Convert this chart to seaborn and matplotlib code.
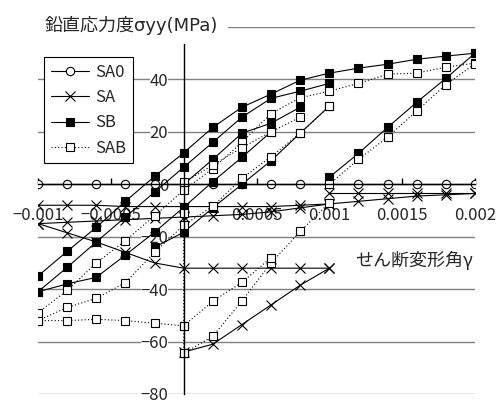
import matplotlib
matplotlib.use("Agg")
import matplotlib.pyplot as plt
import seaborn as sns

# strain points used by every series (shear angle gamma)
gamma = [-0.001, -0.0008, -0.0006, -0.0004, -0.0002, 0, 0.0002, 0.0004,
         0.0006, 0.0008, 0.001, 0.0012, 0.0014, 0.0016, 0.0018, 0.002]

# SA0
sa0_y = [0, 0, 0, 0, 0, 0, 0, 0, 0, 0, 0, 0, 0, 0, 0, 0]

# SA
sa_1 = [-8, -8, -8, -8.5, -8.5, -8.5, -8.5, -8.5, -8.5, -8, -7.5, -6.5, -5.5, -4.5, -4, -3.5]
sa_2 = [-15, -14.5, -14, -13.5, -13, -12.5, -12, -11.5, -10.5, -9, -7.5]
sa_3 = [-15, -18.5, -22, -26, -30, -32, -32, -32, -32, -32, -32]
sa_4 = [-64, -61, -53.5, -46, -38.5, -32]
sa_5 = [-3.5, -3.5, -3.5, -3.5, -3.5, -3.5]

# SB
sb_1 = [-35, -25.6, -16.4, -6.5, 3, 12, 21.7, 29.4, 34.4, 39.7, 42.4, 44.3, 45.8, 47.7, 48.9, 50]
sb_2 = [-41, -31.7, -22, -12.5, -3, 6.5, 16, 25.6, 32.8, 35.5, 38.5]
sb_3 = [-41, -38, -35.5, -27, -18.3, -8.8, 1, 10.3, 20]
sb_4 = [-24, -18.3, -9, 0, 9, 19.5, 29.8]
sb_5 = [0, 9.5, 19.5, 23.3, 29.4]
sb_6 = [2.7, 11.8, 21.7, 31.3, 40.4, 50]

# SAB
sab_1_x = [-0.001, -0.0008, -0.0006, -0.0004, -0.0002, 0, 0]
sab_1 = [-52, -52, -51.5, -52, -53, -54, -64.5]
sab_2 = [-64.5, -58, -44.5, -30, -18, -7]
sab_3_x = [0, 0, 0.0002, 0.0004, 0.0006]
sab_3 = [-11, -54, -44.6, -37.4, -28]
sab_4 = [-49, -40.5, -30, -21.5, -12, -2.3, 6, 16, 27, 33, 35.5, 38.5, 42, 42.4, 44.7, 46.2]
sab_5 = [-52, -47, -43.5, -37.5, -26, -15.6, -8.4, 2.3, 10.5, 19.5, 29.8]
sab_6 = [0, 9.5, 18, 28, 38, 46]
sab_7 = [0.7, 7.3, 14, 20, 25.6]

xticks = [-0.001, -0.0005, 0, 0.0005, 0.001, 0.0015, 0.002]
xtick_labels = ["\u22120.001", "\u22120.0005", "0", "0.0005", "0.001", "0.0015", "0.002"]
yticks = [-80, -60, -40, -20, 0, 20, 40, 60]
ytick_labels = ["\u221280", "\u221260", "\u221240", "\u221220", "0", "20", "40", ""]

sns.set_theme(style="white")
plt.rcParams["font.family"] = ["Noto Sans CJK JP", "DejaVu Sans"]

fig = plt.figure(figsize=(5.01, 4.03), dpi=100)
ax = fig.add_axes([38 / 501, 9 / 403, 437 / 501, 367 / 403])

styles = {
    "SA0": dict(marker="o", markersize=6, markerfacecolor="white", linestyle="-"),
    "SA": dict(marker="x", markersize=7.5, markerfacecolor="black", linestyle="-"),
    "SB": dict(marker="s", markersize=5.5, markerfacecolor="black", linestyle="-"),
    "SAB": dict(marker="s", markersize=5.5, markerfacecolor="white", linestyle=(0, (1, 2))),
}

series = [
    ("SA0", gamma, sa0_y),
    ("SA", gamma, sa_1),
    ("SA", gamma[:11], sa_2),
    ("SA", gamma[:11], sa_3),
    ("SA", gamma[5:11], sa_4),
    ("SA", gamma[10:], sa_5),
    ("SB", gamma, sb_1),
    ("SB", gamma[:11], sb_2),
    ("SB", gamma[:9], sb_3),
    ("SB", gamma[4:11], sb_4),
    ("SB", gamma[5:10], sb_5),
    ("SB", gamma[10:], sb_6),
    ("SAB", sab_1_x, sab_1),
    ("SAB", gamma[5:11], sab_2),
    ("SAB", sab_3_x, sab_3),
    ("SAB", gamma, sab_4),
    ("SAB", gamma[:11], sab_5),
    ("SAB", gamma[10:], sab_6),
    ("SAB", gamma[5:10], sab_7),
]

seen = set()
for name, xs, ys in series:
    lab = name if name not in seen else None
    seen.add(name)
    sns.lineplot(x=xs, y=ys, ax=ax, color="black", linewidth=0.8,
                 markeredgecolor="black", markeredgewidth=0.8,
                 sort=False, estimator=None, label=lab, legend=False,
                 **styles[name])

ax.set_xlim(-0.001, 0.002)
ax.set_ylim(-80, 60)
ax.set_xticks(xticks)
ax.set_xticklabels(xtick_labels)
ax.set_yticks(yticks)
ax.set_yticklabels(ytick_labels)
ax.set_xlabel("")
ax.set_ylabel("")

for s in ["top", "right"]:
    ax.spines[s].set_visible(False)
ax.spines["left"].set_position(("data", 0))
ax.spines["bottom"].set_position(("data", 0))
for s in ["left", "bottom"]:
    ax.spines[s].set_color("black")
    ax.spines[s].set_linewidth(1)

ax.set_axisbelow(True)
ax.yaxis.grid(True, color="#808080", linewidth=1)
ax.xaxis.grid(False)
ax.tick_params(axis="x", direction="in", length=4, width=1, color="black",
               pad=16, labelsize=12, bottom=True)
ax.tick_params(axis="y", length=0, pad=11, labelsize=12)
for t in ax.get_yticklabels():
    t.set_bbox(dict(facecolor="white", edgecolor="none", pad=0))

handles, labels = ax.get_legend_handles_labels()
leg = ax.legend(handles, labels, loc="upper left",
                bbox_to_anchor=(44 / 501, 1 - 57 / 403), bbox_transform=fig.transFigure,
                frameon=True, fancybox=False, edgecolor="black", framealpha=1,
                handlelength=2.3, handletextpad=0.35, borderaxespad=0,
                borderpad=0.4, labelspacing=0.5, fontsize=12, numpoints=1)
leg.get_frame().set_linewidth(0.8)

fig.text(45 / 501, 1 - 25 / 403, "鉛直応力度σyy(MPa)", ha="left", va="center",
         fontsize=13, zorder=5, family=["DejaVu Sans", "Noto Sans CJK JP"],
         bbox=dict(boxstyle="square,pad=0.55", facecolor="white", edgecolor="none"))
fig.text(473 / 501, 1 - 260 / 403, "せん断変形角γ", ha="right", va="center", fontsize=13)

fig.savefig("out.png", dpi=100)
